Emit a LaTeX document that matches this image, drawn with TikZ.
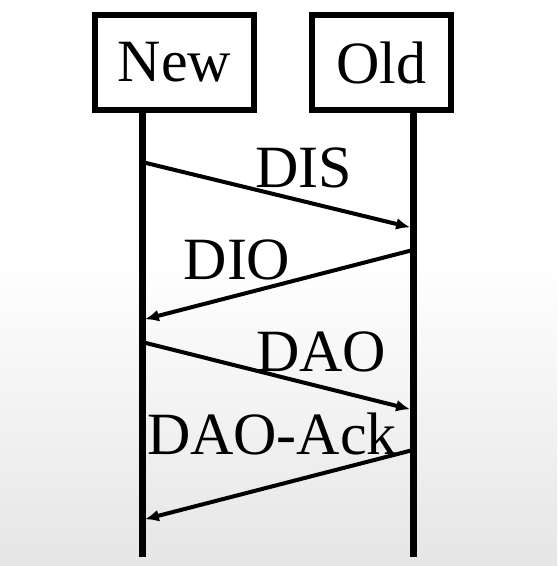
\documentclass[tikz,border=0pt]{standalone}
\usepackage{fontspec}
\setmainfont{Liberation Serif}
\usetikzlibrary{positioning, arrows.meta}

\begin{document}
\begin{tikzpicture}[
  x=0.5pt, y=-0.5pt,
  node distance=26pt,
  actor/.style={draw, line width=3pt, minimum height=47.5pt, inner xsep=2pt, font=\fontsize{30}{36}\selectfont},
  life/.style={line width=3.5pt},
  msg/.style={-{Latex[length=7pt, width=6pt]}, line width=2pt, shorten >=1.5pt},
  lbl/.style={font=\fontsize{30}{36}\selectfont, inner sep=0pt}]
\fill[white] (0,0) rectangle (557,260);
\shade[top color=white, bottom color=gray!20] (0,260) rectangle (557,566);
\useasboundingbox (0,0) rectangle (557,566);
\node[actor, minimum width=79.5pt] (new) at (174.5,62.5) {New};
\node[actor, minimum width=69.5pt, right=of new] (old) {Old};
% lifelines
\coordinate (newtop) at (142,113);
\coordinate (newbot) at (142,557);
\coordinate (oldtop) at (413,113);
\coordinate (oldbot) at (413,557);
\draw[life] (newtop) -- (newbot);
\draw[life] (oldtop) -- (oldbot);
% message end points
\coordinate (n1) at (142,162);
\coordinate (o1) at (413,228);
\coordinate (o2) at (413,250);
\coordinate (n2) at (142,320);
\coordinate (n3) at (142,342);
\coordinate (o3) at (413,410);
\coordinate (o4) at (413,450);
\coordinate (n4) at (142,520);
\foreach \a/\b in {n1/o1, o2/n2, n3/o3, o4/n4} \draw[msg] (\a) -- (\b);
\node[lbl] (dis) at (304,168) {DIS};
\node[lbl] (dio) at (237,260) {DIO};
\node[lbl] (dao) at (321,352) {DAO};
\node[lbl] (ack) at (272,434) {DAO-Ack};
\end{tikzpicture}
\end{document}
